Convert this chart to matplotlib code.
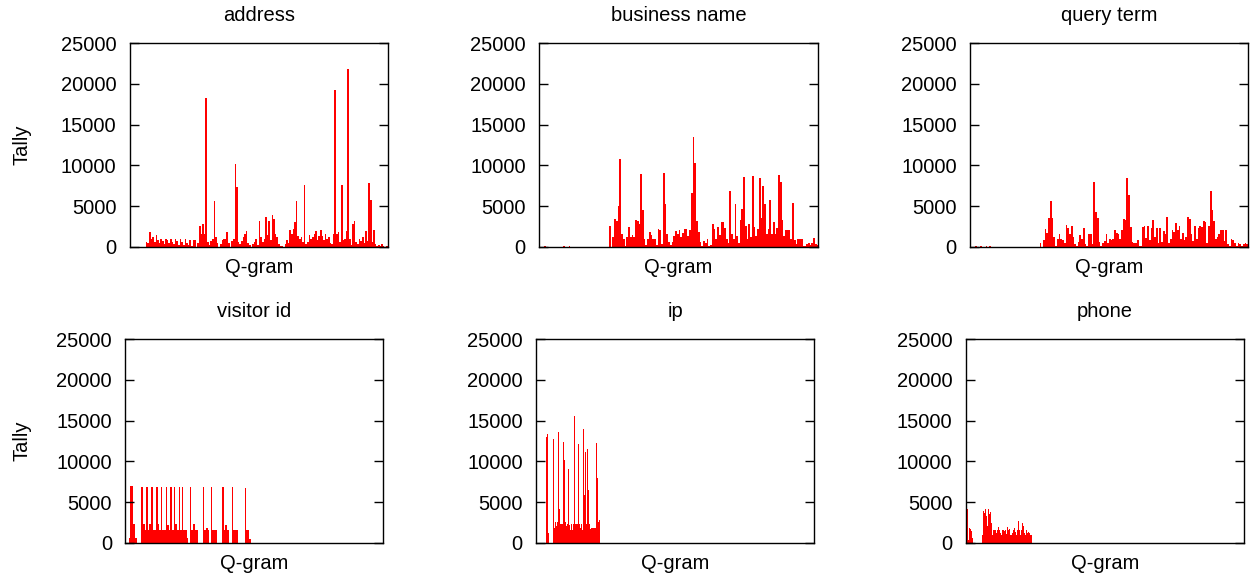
import numpy as np
import matplotlib
matplotlib.use("Agg")
import matplotlib.pyplot as plt

plt.rcParams['font.family'] = ['Liberation Sans', 'DejaVu Sans']

# tally per q-gram slot
address = [
    0, 0, 0, 0, 0, 0, 0, 0, 0, 0,
    600, 400, 1800, 900, 1200, 600, 1400, 800, 500, 1000,
    700, 300, 1000, 800, 400, 1000, 600, 300, 1000, 700,
    200, 900, 600, 200, 900, 500, 200, 800, 100, 800,
    800, 0, 500, 2500, 1600, 2800, 1500, 18300, 600, 200,
    700, 1000, 5600, 1200, 400, 0, 300, 800, 1000, 1000,
    1800, 400, 0, 700, 1000, 10200, 7300, 600, 300, 700,
    1200, 1600, 1900, 500, 200, 0, 300, 600, 1000, 200,
    3200, 1200, 600, 1000, 3700, 1400, 3100, 800, 3900, 3400,
    1500, 1200, 300, 100, 100, 0, 300, 800, 400, 2000,
    1500, 2200, 3000, 5600, 1300, 1000, 1200, 600, 7600, 300,
    600, 1400, 900, 1200, 1600, 1900, 800, 1300, 2000, 1300,
    800, 1500, 1000, 1200, 400, 300, 1500, 19300, 1600, 1800,
    600, 7600, 800, 1000, 1900, 21800, 900, 200, 2800, 3200,
    600, 300, 1000, 700, 1200, 400, 1900, 700, 7800, 5700,
    600, 2000, 300, 100, 200, 100, 300, 100, 0, 100,
]

business_name = [
    0, 0, 0, 100, 0, 0, 0, 0, 0, 0,
    0, 0, 0, 0, 100, 0, 0, 100, 0, 0,
    0, 0, 0, 0, 0, 0, 0, 0, 0, 0,
    0, 0, 0, 0, 0, 0, 0, 0, 0, 0,
    2500, 0, 1200, 3400, 3200, 5000, 10800, 1500, 1000, 100,
    1200, 2400, 1200, 1400, 1200, 3300, 3200, 2800, 8900, 4500,
    1000, 200, 1000, 1800, 1400, 1000, 1000, 200, 2200, 2000,
    300, 9100, 5300, 1500, 600, 200, 600, 1300, 1900, 1500,
    2000, 1200, 1700, 2200, 2200, 1300, 2100, 6600, 13500, 10300,
    3100, 1800, 600, 100, 700, 500, 1000, 100, 200, 2800,
    2200, 1000, 2400, 1400, 3000, 3000, 2300, 1000, 400, 6900,
    1500, 1000, 5300, 1300, 400, 3300, 4600, 8600, 2500, 1000,
    2800, 1200, 8700, 2400, 1300, 2200, 8500, 3500, 7500, 5200,
    1500, 2200, 5800, 1500, 3000, 1600, 2300, 8800, 8000, 3300,
    1300, 2000, 2000, 2000, 1000, 5400, 800, 300, 1000, 1000,
    1000, 100, 100, 300, 500, 200, 400, 1100, 300, 200,
]

query_term = [
    0, 0, 0, 100, 0, 0, 100, 0, 0, 100,
    0, 100, 0, 0, 0, 0, 0, 0, 0, 0,
    0, 0, 0, 0, 0, 0, 0, 0, 0, 0,
    0, 0, 0, 0, 0, 0, 0, 0, 0, 0,
    500, 0, 800, 2200, 1700, 3500, 5600, 3500, 1200, 100,
    1000, 1600, 1000, 800, 400, 2700, 2300, 1600, 2600, 1200,
    300, 100, 600, 1400, 1000, 2300, 300, 100, 1600, 1600,
    300, 7900, 4300, 3500, 600, 100, 500, 700, 1600, 400,
    1000, 800, 900, 2000, 1700, 1500, 900, 2100, 3400, 3300,
    8500, 6400, 2400, 600, 400, 500, 800, 100, 100, 2400,
    2600, 1100, 2600, 800, 2300, 3300, 1200, 2300, 500, 2300,
    600, 1900, 1500, 3600, 500, 1000, 2000, 1800, 2900, 2000,
    2600, 1000, 1700, 800, 1200, 3600, 3400, 1500, 700, 2500,
    1000, 2300, 2500, 2400, 3200, 3000, 500, 2500, 6800, 4500,
    3200, 1000, 1200, 1500, 2100, 2000, 700, 2100, 300, 100,
    1000, 800, 400, 100, 400, 300, 100, 300, 400, 300,
]

visitor_id = [
    0, 0, 600, 7000, 7000, 2300, 600, 0, 0, 0,
    6900, 2300, 1500, 6800, 1500, 2300, 6800, 1500, 1500, 6800,
    2300, 1500, 6800, 1500, 1500, 6900, 2200, 1500, 6800, 1500,
    6800, 2300, 1500, 6800, 1500, 6900, 1500, 1500, 600, 0,
    6800, 1500, 2300, 1500, 1500, 0, 0, 0, 6800, 1500,
    1800, 1500, 0, 6800, 1500, 1500, 1500, 0, 0, 0,
    6800, 1500, 2200, 1500, 0, 0, 6800, 1500, 1500, 1500,
    0, 0, 0, 0, 6700, 1500, 1500, 500,
]

ip = [
    0, 0, 0, 0, 0, 0, 0, 0, 0, 0,
    0, 0, 13000, 13300, 1200, 0, 0, 0, 0, 12700,
    12800, 1800, 2600, 2000, 2500, 13600, 8500, 4100, 2300, 2300,
    2300, 12400, 10200, 2500, 2800, 2000, 2300, 9000, 2200, 1500,
    2300, 1500, 2300, 2300, 15600, 2300, 2300, 2300, 12100, 11900,
    2300, 1800, 2300, 1500, 14000, 5900, 11200, 9600, 2300, 11500,
    6500, 2300, 1700, 1800, 1800, 12600, 1800, 1800, 1800, 12300,
    8000, 2500, 2300, 2800,
]

phone = [
    4400, 4300, 4200, 300, 1800, 1700, 1400, 600, 0, 0,
    0, 0, 0, 0, 0, 0, 0, 0, 0, 1000,
    3900, 3600, 4100, 3300, 1800, 2000, 4100, 3500, 3800, 2400,
    1000, 1500, 1800, 1600, 1500, 1200, 1600, 1900, 1600, 1400,
    1200, 1000, 1500, 1500, 1400, 1500, 1100, 1400, 1900, 1600,
    1700, 1000, 900, 1200, 1500, 2700, 1800, 1300, 1000, 1600,
    2700, 1600, 1300, 1000, 1500, 2400, 2000, 1200, 1000, 1500,
    1300, 1200, 1300, 1200, 1000, 900,
]

titles = ["address", "business name", "query term", "visitor id", "ip", "phone"]
series = [address, business_name, query_term, visitor_id, ip, phone]
n_slots = [160, 160, 160, 160, 320, 320]
yticks = [0, 5000, 10000, 15000, 20000, 25000]

W, H = 1254, 574
# axes boxes in pixels: left, top, right, bottom
boxes = [
    (129.7, 43.3, 387.7, 246.7), (539, 43.3, 818.3, 246.7), (970, 43.3, 1248, 246.7),
    (125.3, 339.3, 383.3, 542.7), (536, 339.3, 814.3, 542.7), (965.7, 339.3, 1244, 542.7),
]

fig = plt.figure(figsize=(W / 100, H / 100), dpi=100)

for title, vals, n, (l, t, r, b) in zip(titles, series, n_slots, boxes):
    ax = fig.add_axes([l / W, 1 - b / H, (r - l) / W, (b - t) / H])
    x = np.arange(len(vals))
    ax.bar(x, vals, width=1.0, align='edge', color='red', linewidth=0)
    ax.set_xlim(0, n)
    ax.set_ylim(0, 25000)
    ax.set_yticks(yticks)
    ax.set_xticks([])
    ax.tick_params(axis='y', direction='in', length=6.5, width=1, left=True, right=True,
                   labelsize=14.5, pad=9.5)
    for s in ax.spines.values():
        s.set_linewidth(1.0)
    ax.set_title(title, fontsize=14.5, pad=16)
    ax.set_xlabel("Q-gram", fontsize=14.5, labelpad=8)

fig.text(22 / W, 1 - 145 / H, "Tally", rotation=90, ha='center', va='center', fontsize=14.5)
fig.text(22 / W, 1 - 441 / H, "Tally", rotation=90, ha='center', va='center', fontsize=14.5)

fig.savefig("out.png", dpi=100)
